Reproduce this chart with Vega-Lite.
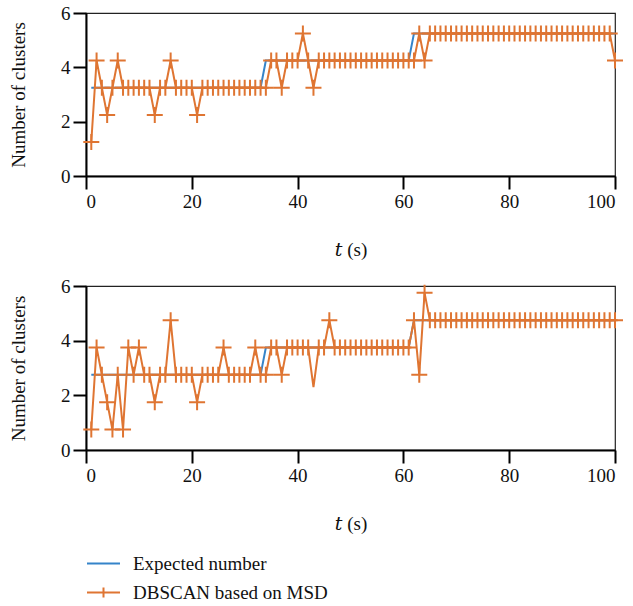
{
"$schema": "https://vega.github.io/schema/vega-lite/v6.json",
"background": "white",
"padding": {"left": 8, "top": 3, "right": 5, "bottom": 2},
"datasets": {
"top": [
{"t":1,"e":3.25,"d":1.25},{"t":2,"e":3.25,"d":4.25},{"t":3,"e":3.25,"d":3.25},{"t":4,"e":3.25,"d":2.25},{"t":5,"e":3.25,"d":3.25},
{"t":6,"e":3.25,"d":4.25},{"t":7,"e":3.25,"d":3.25},{"t":8,"e":3.25,"d":3.25},{"t":9,"e":3.25,"d":3.25},{"t":10,"e":3.25,"d":3.25},
{"t":11,"e":3.25,"d":3.25},{"t":12,"e":3.25,"d":3.25},{"t":13,"e":3.25,"d":2.25},{"t":14,"e":3.25,"d":3.25},{"t":15,"e":3.25,"d":3.25},
{"t":16,"e":3.25,"d":4.25},{"t":17,"e":3.25,"d":3.25},{"t":18,"e":3.25,"d":3.25},{"t":19,"e":3.25,"d":3.25},{"t":20,"e":3.25,"d":3.25},
{"t":21,"e":3.25,"d":2.25},{"t":22,"e":3.25,"d":3.25},{"t":23,"e":3.25,"d":3.25},{"t":24,"e":3.25,"d":3.25},{"t":25,"e":3.25,"d":3.25},
{"t":26,"e":3.25,"d":3.25},{"t":27,"e":3.25,"d":3.25},{"t":28,"e":3.25,"d":3.25},{"t":29,"e":3.25,"d":3.25},{"t":30,"e":3.25,"d":3.25},
{"t":31,"e":3.25,"d":3.25},{"t":32,"e":3.25,"d":3.25},{"t":33,"e":3.25,"d":3.25},{"t":34,"e":4.25,"d":3.25},{"t":35,"e":4.25,"d":4.25},
{"t":36,"e":4.25,"d":4.25},{"t":37,"e":4.25,"d":3.25},{"t":38,"e":4.25,"d":4.25},{"t":39,"e":4.25,"d":4.25},{"t":40,"e":4.25,"d":4.25},
{"t":41,"e":4.25,"d":5.25},{"t":42,"e":4.25,"d":4.25},{"t":43,"e":4.25,"d":3.25},{"t":44,"e":4.25,"d":4.25},{"t":45,"e":4.25,"d":4.25},
{"t":46,"e":4.25,"d":4.25},{"t":47,"e":4.25,"d":4.25},{"t":48,"e":4.25,"d":4.25},{"t":49,"e":4.25,"d":4.25},{"t":50,"e":4.25,"d":4.25},
{"t":51,"e":4.25,"d":4.25},{"t":52,"e":4.25,"d":4.25},{"t":53,"e":4.25,"d":4.25},{"t":54,"e":4.25,"d":4.25},{"t":55,"e":4.25,"d":4.25},
{"t":56,"e":4.25,"d":4.25},{"t":57,"e":4.25,"d":4.25},{"t":58,"e":4.25,"d":4.25},{"t":59,"e":4.25,"d":4.25},{"t":60,"e":4.25,"d":4.25},
{"t":61,"e":4.25,"d":4.25},{"t":62,"e":5.25,"d":4.25},{"t":63,"e":5.25,"d":5.25},{"t":64,"e":5.25,"d":4.25},{"t":65,"e":5.25,"d":5.25},
{"t":66,"e":5.25,"d":5.25},{"t":67,"e":5.25,"d":5.25},{"t":68,"e":5.25,"d":5.25},{"t":69,"e":5.25,"d":5.25},{"t":70,"e":5.25,"d":5.25},
{"t":71,"e":5.25,"d":5.25},{"t":72,"e":5.25,"d":5.25},{"t":73,"e":5.25,"d":5.25},{"t":74,"e":5.25,"d":5.25},{"t":75,"e":5.25,"d":5.25},
{"t":76,"e":5.25,"d":5.25},{"t":77,"e":5.25,"d":5.25},{"t":78,"e":5.25,"d":5.25},{"t":79,"e":5.25,"d":5.25},{"t":80,"e":5.25,"d":5.25},
{"t":81,"e":5.25,"d":5.25},{"t":82,"e":5.25,"d":5.25},{"t":83,"e":5.25,"d":5.25},{"t":84,"e":5.25,"d":5.25},{"t":85,"e":5.25,"d":5.25},
{"t":86,"e":5.25,"d":5.25},{"t":87,"e":5.25,"d":5.25},{"t":88,"e":5.25,"d":5.25},{"t":89,"e":5.25,"d":5.25},{"t":90,"e":5.25,"d":5.25},
{"t":91,"e":5.25,"d":5.25},{"t":92,"e":5.25,"d":5.25},{"t":93,"e":5.25,"d":5.25},{"t":94,"e":5.25,"d":5.25},{"t":95,"e":5.25,"d":5.25},
{"t":96,"e":5.25,"d":5.25},{"t":97,"e":5.25,"d":5.25},{"t":98,"e":5.25,"d":5.25},{"t":99,"e":5.25,"d":5.25},{"t":100,"e":5.25,"d":4.25}
],
"bot": [
{"t":1,"e":2.75,"d":0.75},{"t":2,"e":2.75,"d":3.75},{"t":3,"e":2.75,"d":2.75},{"t":4,"e":2.75,"d":1.75},{"t":5,"e":2.75,"d":0.75},
{"t":6,"e":2.75,"d":2.75},{"t":7,"e":2.75,"d":0.75},{"t":8,"e":2.75,"d":3.75},{"t":9,"e":2.75,"d":2.75},{"t":10,"e":2.75,"d":3.75},
{"t":11,"e":2.75,"d":2.75},{"t":12,"e":2.75,"d":2.75},{"t":13,"e":2.75,"d":1.75},{"t":14,"e":2.75,"d":2.75},{"t":15,"e":2.75,"d":2.75},
{"t":16,"e":2.75,"d":4.75},{"t":17,"e":2.75,"d":2.75},{"t":18,"e":2.75,"d":2.75},{"t":19,"e":2.75,"d":2.75},{"t":20,"e":2.75,"d":2.75},
{"t":21,"e":2.75,"d":1.75},{"t":22,"e":2.75,"d":2.75},{"t":23,"e":2.75,"d":2.75},{"t":24,"e":2.75,"d":2.75},{"t":25,"e":2.75,"d":2.75},
{"t":26,"e":2.75,"d":3.75},{"t":27,"e":2.75,"d":2.75},{"t":28,"e":2.75,"d":2.75},{"t":29,"e":2.75,"d":2.75},{"t":30,"e":2.75,"d":2.75},
{"t":31,"e":2.75,"d":2.75},{"t":32,"e":2.75,"d":3.75},{"t":33,"e":2.75,"d":2.75},{"t":34,"e":3.75,"d":2.75},{"t":35,"e":3.75,"d":3.75},
{"t":36,"e":3.75,"d":3.75},{"t":37,"e":3.75,"d":2.75},{"t":38,"e":3.75,"d":3.75},{"t":39,"e":3.75,"d":3.75},{"t":40,"e":3.75,"d":3.75},
{"t":41,"e":3.75,"d":3.75},{"t":42,"e":3.75,"d":3.75},{"t":43,"e":3.75,"d":2.3},{"t":44,"e":3.75,"d":3.75},{"t":45,"e":3.75,"d":3.75},
{"t":46,"e":3.75,"d":4.75},{"t":47,"e":3.75,"d":3.75},{"t":48,"e":3.75,"d":3.75},{"t":49,"e":3.75,"d":3.75},{"t":50,"e":3.75,"d":3.75},
{"t":51,"e":3.75,"d":3.75},{"t":52,"e":3.75,"d":3.75},{"t":53,"e":3.75,"d":3.75},{"t":54,"e":3.75,"d":3.75},{"t":55,"e":3.75,"d":3.75},
{"t":56,"e":3.75,"d":3.75},{"t":57,"e":3.75,"d":3.75},{"t":58,"e":3.75,"d":3.75},{"t":59,"e":3.75,"d":3.75},{"t":60,"e":3.75,"d":3.75},
{"t":61,"e":3.75,"d":3.75},{"t":62,"e":4.75,"d":4.75},{"t":63,"e":4.75,"d":2.75},{"t":64,"e":4.75,"d":5.75},{"t":65,"e":4.75,"d":4.75},
{"t":66,"e":4.75,"d":4.75},{"t":67,"e":4.75,"d":4.75},{"t":68,"e":4.75,"d":4.75},{"t":69,"e":4.75,"d":4.75},{"t":70,"e":4.75,"d":4.75},
{"t":71,"e":4.75,"d":4.75},{"t":72,"e":4.75,"d":4.75},{"t":73,"e":4.75,"d":4.75},{"t":74,"e":4.75,"d":4.75},{"t":75,"e":4.75,"d":4.75},
{"t":76,"e":4.75,"d":4.75},{"t":77,"e":4.75,"d":4.75},{"t":78,"e":4.75,"d":4.75},{"t":79,"e":4.75,"d":4.75},{"t":80,"e":4.75,"d":4.75},
{"t":81,"e":4.75,"d":4.75},{"t":82,"e":4.75,"d":4.75},{"t":83,"e":4.75,"d":4.75},{"t":84,"e":4.75,"d":4.75},{"t":85,"e":4.75,"d":4.75},
{"t":86,"e":4.75,"d":4.75},{"t":87,"e":4.75,"d":4.75},{"t":88,"e":4.75,"d":4.75},{"t":89,"e":4.75,"d":4.75},{"t":90,"e":4.75,"d":4.75},
{"t":91,"e":4.75,"d":4.75},{"t":92,"e":4.75,"d":4.75},{"t":93,"e":4.75,"d":4.75},{"t":94,"e":4.75,"d":4.75},{"t":95,"e":4.75,"d":4.75},
{"t":96,"e":4.75,"d":4.75},{"t":97,"e":4.75,"d":4.75},{"t":98,"e":4.75,"d":4.75},{"t":99,"e":4.75,"d":4.75},{"t":100,"e":4.75,"d":4.75}
]
},
"config": {
"font": "Liberation Serif",
"view": {"stroke": "#222", "strokeWidth": 1.2},
"style": {"guide-label": {"font": "Liberation Serif"}, "guide-title": {"font": "Liberation Serif, DejaVu Serif"}},
"axis": {"labelFont": "Liberation Serif", "titleFont": "Liberation Serif, DejaVu Serif", "labelFontSize": 19, "titleFontSize": 19, "titleFontWeight": "normal", "labelColor": "#111", "titleColor": "#111", "domainColor": "#000", "domainWidth": 2, "tickColor": "#000", "tickWidth": 2, "tickSize": 13, "grid": false, "labelPadding": 3},
"legend": {"labelFont": "Liberation Serif", "labelFontSize": 19, "labelColor": "#111", "labelLimit": 0}
},
"spacing": 16,
"resolve": {"scale": {"color": "shared"}, "legend": {"color": "shared"}},
"vconcat": [
{
"width": 529, "height": 163,
"data": {"name": "top"},
"transform": [{"fold": ["e", "d"], "as": ["key", "v"]}],
"encoding": {
"x": {"field": "t", "type": "quantitative", "scale": {"domain": [0, 100], "nice": false}, "axis": {"values": [0, 20, 40, 60, 80, 100], "title": "𝑡 (s)", "titlePadding": 29, "labelFont": "Liberation Serif"}},
"y": {"field": "v", "type": "quantitative", "scale": {"domain": [0, 6], "nice": false}, "axis": {"values": [0, 2, 4, 6], "title": "Number of clusters", "titlePadding": 32, "labelFont": "Liberation Serif"}}
},
"layer": [
{"transform": [{"filter": "datum.key == 'e'"}], "mark": {"type": "line", "strokeWidth": 2, "clip": false},
 "encoding": {"color": {"field": "key", "type": "nominal", "scale": {"domain": ["e", "d"], "range": ["#3584c9", "#df7532"]},
  "legend": {"orient": "bottom", "direction": "vertical", "title": null, "offset": 12, "rowPadding": 1, "labelOffset": 12, "labelLimit": 0,
   "labelExpr": "datum.value == 'e' ? 'Expected number' : 'DBSCAN based on MSD'",
   "symbolType": "M-1,0H1", "symbolSize": 1089, "symbolStrokeWidth": 2,
   "encode": {"symbols": {"update": {"shape": {"signal": "datum.value == 'd' ? 'M-1,0H1M0,-0.3V0.3' : 'M-1,0H1'"}, "stroke": {"signal": "datum.value == 'd' ? '#d9541e' : '#2f74c0'"}, "fill": {"value": "transparent"}}}}}}}},
{"transform": [{"filter": "datum.key == 'd'"}], "mark": {"type": "line", "strokeWidth": 2, "clip": false},
 "encoding": {"color": {"field": "key", "type": "nominal"}}},
{"transform": [{"filter": "datum.key == 'd'"}], "mark": {"type": "point", "shape": "M-1,0H1M0,-1V1", "size": 256, "filled": false, "stroke": "#df7532", "strokeWidth": 2, "opacity": 1, "clip": false}}
]
},
{
"width": 529, "height": 164,
"data": {"name": "bot"},
"transform": [{"fold": ["e", "d"], "as": ["key", "v"]}],
"encoding": {
"x": {"field": "t", "type": "quantitative", "scale": {"domain": [0, 100], "nice": false}, "axis": {"values": [0, 20, 40, 60, 80, 100], "title": "𝑡 (s)", "titlePadding": 29, "labelFont": "Liberation Serif"}},
"y": {"field": "v", "type": "quantitative", "scale": {"domain": [0, 6], "nice": false}, "axis": {"values": [0, 2, 4, 6], "title": "Number of clusters", "titlePadding": 32, "labelFont": "Liberation Serif"}}
},
"layer": [
{"transform": [{"filter": "datum.key == 'e'"}], "mark": {"type": "line", "strokeWidth": 2, "clip": false},
 "encoding": {"color": {"field": "key", "type": "nominal"}}},
{"transform": [{"filter": "datum.key == 'd'"}], "mark": {"type": "line", "strokeWidth": 2, "clip": false},
 "encoding": {"color": {"field": "key", "type": "nominal"}}},
{"transform": [{"filter": "datum.key == 'd' && datum.t != 43"}], "mark": {"type": "point", "shape": "M-1,0H1M0,-1V1", "size": 256, "filled": false, "stroke": "#df7532", "strokeWidth": 2, "opacity": 1, "clip": false}}
]
}
]
}
